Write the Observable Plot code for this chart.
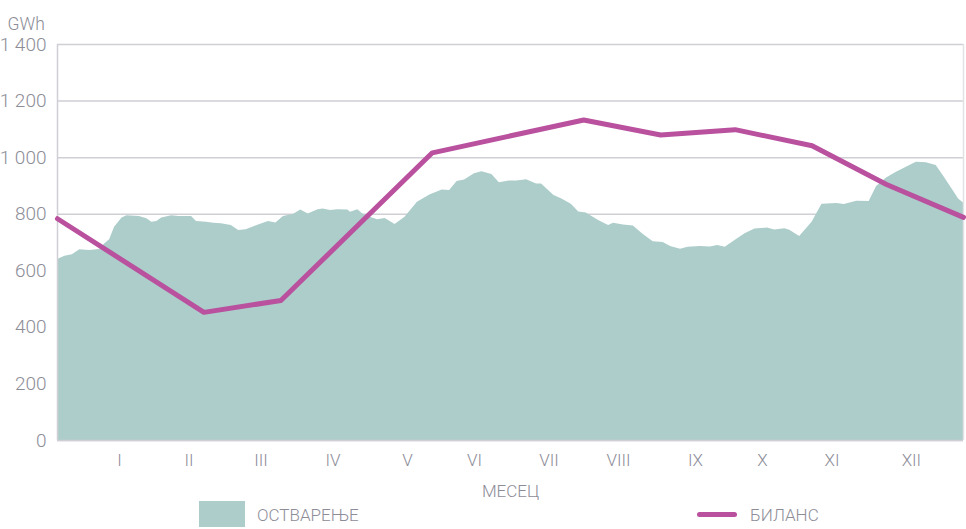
<!DOCTYPE html>
<html>
<head>
<meta charset="utf-8">
<script src="https://cdn.jsdelivr.net/npm/d3@7"></script>
<script src="https://cdn.jsdelivr.net/npm/@observablehq/plot@0.6"></script>
<style>
  body { margin: 0; background: #fff; font-family: Roboto, "Open Sans", sans-serif; }
  #chart { width: 966px; }
  #legend { position: relative; width: 966px; height: 26px; margin-top: -2px; font-family: Roboto, sans-serif; font-weight: 300; font-size: 17px; color: #8d8d98; }
  #legend .sw { position: absolute; left: 199px; top: 0px; width: 46px; height: 28px; background: #accdca; }
  #legend .t1 { position: absolute; left: 257px; top: 4px; }
  #legend .ln { position: absolute; left: 697px; top: 11px; width: 40px; height: 5px; border-radius: 3px; background: #b9519e; }
  #legend .t2 { position: absolute; left: 750px; top: 4px; }
</style>
</head>
<body>
<div id="chart"></div>
<div id="legend">
  <div class="sw"></div><div class="t1">ОСТВАРЕЊЕ</div>
  <div class="ln"></div><div class="t2">БИЛАНС</div>
</div>
<script>
// Realized daily production (day of year, GWh)
const realizedDays = [0,3,6,9,13,17,19,21,23,26,28,33,36,38,40,42,46,49,54,56,60,63,66,70,73,76,81,85,88,91,95,98,101,105,107,110,113,117,118,121,123,126,129,132,136,140,145,150,155,158,161,164,168,171,175,178,182,185,189,193,195,200,203,207,210,213,218,222,224,228,232,236,240,244,247,251,254,259,263,266,269,274,277,281,286,289,293,295,299,304,308,314,317,322,327,330,334,338,342,346,350,354,357,361,363,365];
const realizedValues = [640,651,657,674,672,675,695,710,754,787,795,792,784,772,774,787,795,792,792,774,772,768,766,760,742,745,762,774,769,792,799,815,801,816,818,813,816,815,807,816,801,789,780,785,764,789,842,868,886,884,916,921,943,950,940,911,917,917,922,907,907,866,855,835,808,804,778,760,768,762,758,728,703,700,686,676,683,686,684,689,683,713,731,748,751,744,749,743,721,772,835,838,834,846,845,898,928,948,966,984,982,972,934,881,854,840];

// Balance (first of month, GWh)
const balanceDays = [0,59,90,151,212,243,273,304,334,365];
const balanceValues = [784,453,495,1017,1133,1080,1099,1042,905,789];

// Axis ticks
const yTicks = [0,200,400,600,800,1000,1200,1400];
const monthTickDays = [25,53,82,111,141,168,198,226,257,284,312,344];
const monthLabels = ["I","II","III","IV","V","VI","VII","VIII","IX","X","XI","XII"];

const realized = realizedDays.map((d,i) => ({day: d, value: realizedValues[i]}));
const balance = balanceDays.map((d,i) => ({day: d, value: balanceValues[i]}));

const grey = "#8d8d98";
const gridC = "#cfcfd5";

const fmt = d => d >= 1000 ? `${Math.floor(d/1000)} ${String(d%1000).padStart(3,"0")}` : String(d);

const chart = Plot.plot({
  width: 966,
  height: 503,
  marginLeft: 57,
  marginRight: 3,
  marginTop: 44,
  marginBottom: 63,
  style: {fontFamily: "Roboto, sans-serif", fontWeight: 300, fontSize: "17px", color: grey, background: "#fff"},
  x: {domain: [0,365]},
  y: {domain: [0,1400]},
  marks: [
    Plot.ruleY(yTicks, {stroke: gridC, strokeWidth: 1.5}),
    Plot.areaY(realized, {x: "day", y: "value", fill: "#accdca"}),
    Plot.ruleX([0], {stroke: gridC, strokeWidth: 1.5}),
    Plot.ruleX([365], {stroke: "#e2e2e6", strokeWidth: 1.5}),
    Plot.ruleY([0], {stroke: gridC, strokeWidth: 1.5}),
    Plot.line(balance, {x: "day", y: "value", stroke: "#b9519e", strokeWidth: 5, strokeLinejoin: "round"}),
    Plot.axisY({ticks: yTicks, tickFormat: fmt, tickSize: 0, tickPadding: 11, label: null, fill: grey, fontSize: 19}),
    Plot.axisX({ticks: monthTickDays, tickFormat: (d,i) => monthLabels[i], tickSize: 0, tickPadding: 13, label: null, fill: grey, fontSize: 17}),
    Plot.text(["МЕСЕЦ"], {frameAnchor: "bottom", dy: 56, fill: grey, fontSize: 17}),
    Plot.text(["GWh"], {frameAnchor: "top-left", dx: -50, dy: -27, textAnchor: "start", fill: grey, fontSize: 17.5})
  ]
});
document.getElementById("chart").appendChild(chart);
</script>
</body>
</html>
